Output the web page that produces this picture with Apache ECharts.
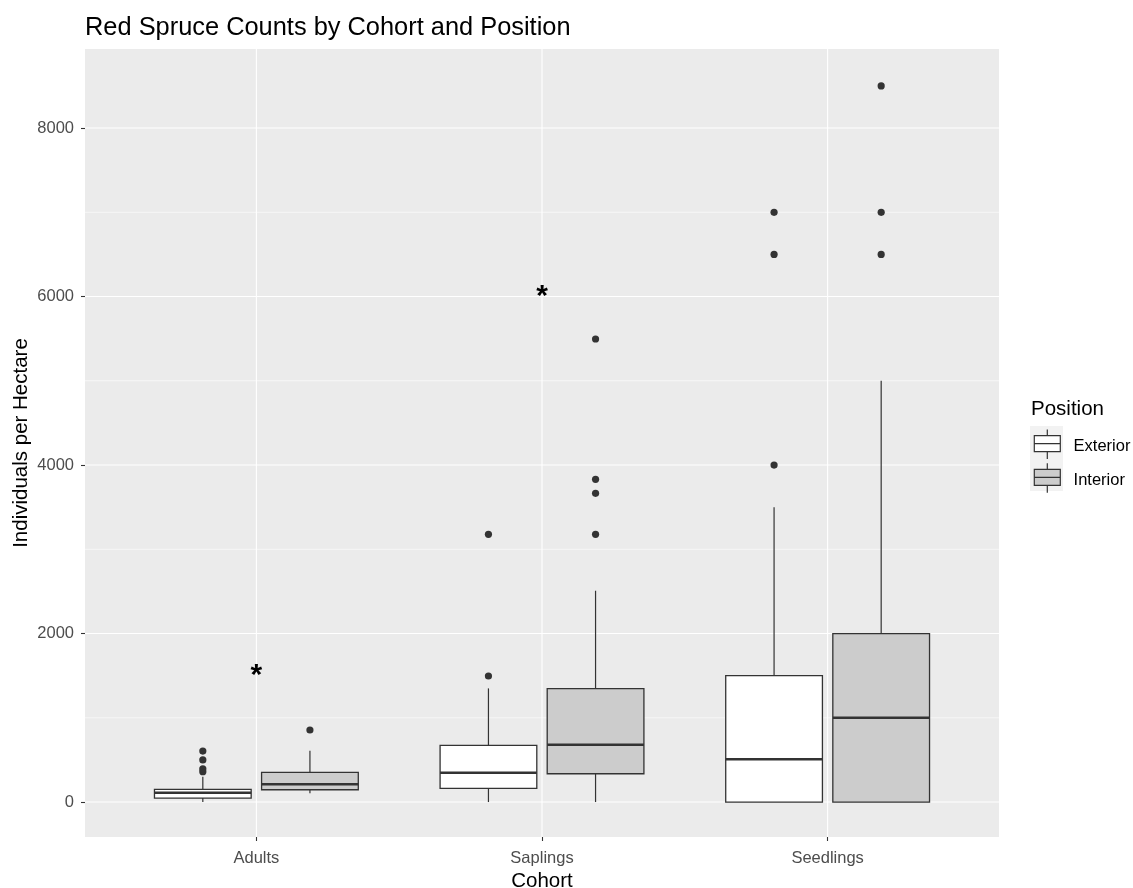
<!DOCTYPE html>
<html>
<head>
<meta charset="utf-8">
<title>Red Spruce Counts by Cohort and Position</title>
<script src="https://cdn.jsdelivr.net/npm/echarts@6/dist/echarts.min.js"></script>
<style>
  html, body { margin: 0; padding: 0; background: #ffffff; }
  #chart { width: 1133px; height: 888px; }
</style>
</head>
<body>
<div id="chart"></div>
<script>
// Cohorts on the x axis
const cohorts = ['Adults', 'Saplings', 'Seedlings'];
const positions = ['Exterior', 'Interior'];

// Five-number summaries per cohort: [lower whisker, Q1, median, Q3, upper whisker]
const exteriorStats = [
  [0, 47, 110, 151, 300],
  [0, 162, 348, 673, 1349],
  [0, 0, 507, 1500, 3500]
];
const interiorStats = [
  [103, 146, 210, 352, 609],
  [0, 336, 680, 1345, 2508],
  [0, 0, 1000, 2000, 5000]
];

// Outlying observations per cohort
const exteriorOutliers = [
  [360, 395, 500, 605],
  [1496, 3177],
  [4000, 6500, 7000]
];
const interiorOutliers = [
  [855],
  [3177, 3664, 3830, 5496],
  [6500, 7000, 8500]
];

// Significance markers: [cohort number, y value]
const markers = [[1, 1500], [2, 6000]];
const markerText = '*';

// Axis breaks
const yMajorBreaks = [0, 2000, 4000, 6000, 8000];
const yMinorBreaks = [1000, 3000, 5000, 7000];
const xBreaks = [1, 2, 3];

const FONT = "'Liberation Sans', Arial, sans-serif";
const OUTLINE = '#333333';
const DODGE = 0.1875;     // half of the dodge step, in category units
const BOX_W = 0.3386;     // box width, in category units

const chart = echarts.init(document.getElementById('chart'), null, { renderer: 'canvas' });

function boxRenderer(outliers, offset) {
  return function (params, api) {
    const i = params.dataIndex;
    const cx = api.value(0) + offset;
    const lo = api.value(1), q1 = api.value(2), md = api.value(3), q3 = api.value(4), hi = api.value(5);
    const half = api.size([BOX_W, 0])[0] / 2;
    const pLo = api.coord([cx, lo]);
    const pQ1 = api.coord([cx, q1]);
    const pMd = api.coord([cx, md]);
    const pQ3 = api.coord([cx, q3]);
    const pHi = api.coord([cx, hi]);
    const style = api.style();
    const children = [
      { type: 'line', shape: { x1: pQ3[0], y1: pQ3[1], x2: pHi[0], y2: pHi[1] },
        style: { stroke: OUTLINE, lineWidth: 1.2 } },
      { type: 'line', shape: { x1: pQ1[0], y1: pQ1[1], x2: pLo[0], y2: pLo[1] },
        style: { stroke: OUTLINE, lineWidth: 1.2 } },
      { type: 'rect',
        shape: { x: pQ1[0] - half, y: pQ3[1], width: half * 2, height: pQ1[1] - pQ3[1] },
        style: { fill: style.fill, stroke: OUTLINE, lineWidth: 1.3 } },
      { type: 'line', shape: { x1: pMd[0] - half, y1: pMd[1], x2: pMd[0] + half, y2: pMd[1] },
        style: { stroke: OUTLINE, lineWidth: 2.5 } }
    ];
    (outliers[i] || []).forEach(function (v) {
      const p = api.coord([cx, v]);
      children.push({ type: 'circle', shape: { cx: p[0], cy: p[1], r: 3.6 },
        style: { fill: OUTLINE } });
    });
    return { type: 'group', children: children };
  };
}

function toBoxData(stats) {
  return stats.map(function (s, i) { return [i + 1].concat(s); });
}

// Panel grid lines drawn across the full panel
function gridRenderer(params, api) {
  const cs = params.coordSys;
  const kind = api.value(0);
  const v = api.value(1);
  if (kind === 0) {
    const x = api.coord([v, 0])[0];
    return { type: 'line', shape: { x1: x, y1: cs.y, x2: x, y2: cs.y + cs.height },
      style: { stroke: '#ffffff', lineWidth: 1.1 } };
  }
  const y = api.coord([1, v])[1];
  return { type: 'line', shape: { x1: cs.x, y1: y, x2: cs.x + cs.width, y2: y },
    style: { stroke: '#ffffff', lineWidth: kind === 1 ? 1.1 : 0.6 } };
}

const gridData = []
  .concat(xBreaks.map(function (b) { return [0, b]; }))
  .concat(yMajorBreaks.map(function (b) { return [1, b]; }))
  .concat(yMinorBreaks.map(function (b) { return [2, b]; }));

// Key glyph for the legend: whiskers, box and median
const keyIcon = 'path://M0,0L0,0 M38,32.5L38,32.5 M16.7,3L16.7,9 M3.7,9L29.7,9L29.7,25L3.7,25Z M3.7,17L29.7,17 M16.7,25L16.7,32.5';

const option = {
  animation: false,
  backgroundColor: '#ffffff',
  title: [
    { text: 'Red Spruce Counts by Cohort and Position', left: 85, top: 15, padding: 0,
      textStyle: { fontFamily: FONT, fontSize: 25.4, fontWeight: 'normal', color: '#000000' } },
    { text: 'Position', left: 1031, top: 399, padding: 0,
      textStyle: { fontFamily: FONT, fontSize: 20.5, fontWeight: 'normal', color: '#000000' } }
  ],
  graphic: [
    { type: 'rect', left: 1030, top: 426, shape: { width: 33, height: 65 },
      style: { fill: '#F2F2F2' }, z: 0 }
  ],
  legend: {
    orient: 'vertical',
    left: 1030,
    top: 426,
    padding: 0,
    itemGap: 0,
    itemWidth: 38,
    itemHeight: 32.5,
    selectedMode: false,
    formatter: '{k|{name}}',
    textStyle: {
      fontFamily: FONT, fontSize: 16.5, color: '#000000',
      rich: { k: { fontFamily: FONT, fontSize: 16.5, color: '#000000', padding: [7, 0, 0, 0] } }
    },
    data: [
      { name: 'Exterior', icon: keyIcon, itemStyle: { color: '#FFFFFF', borderColor: OUTLINE, borderWidth: 1.2 } },
      { name: 'Interior', icon: keyIcon, itemStyle: { color: '#CCCCCC', borderColor: OUTLINE, borderWidth: 1.2 } }
    ]
  },
  grid: {
    left: 85, right: 134, top: 49, bottom: 51,
    containLabel: false,
    outerBoundsMode: 'none',
    show: true, backgroundColor: '#EBEBEB', borderWidth: 0
  },
  xAxis: {
    type: 'value',
    min: 0.4, max: 3.6,
    name: 'Cohort',
    nameLocation: 'middle',
    nameGap: 34,
    nameMoveOverlap: false,
    nameTextStyle: { fontFamily: FONT, fontSize: 20.5, color: '#000000' },
    axisLine: { show: false, onZero: false },
    axisTick: { show: true, length: 4, customValues: xBreaks, lineStyle: { color: '#333333', width: 1.1 } },
    axisLabel: {
      customValues: xBreaks,
      margin: 13,
      fontFamily: FONT, fontSize: 16.5, color: '#4D4D4D',
      formatter: function (v) { return cohorts[Math.round(v) - 1] || ''; }
    },
    splitLine: { show: false }
  },
  yAxis: {
    type: 'value',
    min: -415, max: 8938,
    name: 'Individuals per Hectare',
    nameLocation: 'middle',
    nameGap: 53,
    nameMoveOverlap: false,
    nameTextStyle: { fontFamily: FONT, fontSize: 20.5, color: '#000000' },
    axisLine: { show: false, onZero: false },
    axisTick: { show: true, length: 4, customValues: yMajorBreaks, lineStyle: { color: '#333333', width: 1.1 } },
    axisLabel: {
      customValues: yMajorBreaks,
      margin: 11,
      fontFamily: FONT, fontSize: 16.5, color: '#4D4D4D',
      formatter: function (v) { return String(v); }
    },
    splitLine: { show: false }
  },
  series: [
    {
      name: 'panelGrid', type: 'custom', z: 1, silent: true,
      renderItem: gridRenderer, data: gridData,
      encode: { x: 1 }, clip: true
    },
    {
      name: positions[0], type: 'custom', z: 3,
      itemStyle: { color: '#FFFFFF', borderColor: OUTLINE },
      renderItem: boxRenderer(exteriorOutliers, -DODGE),
      encode: { x: 0, y: [1, 2, 3, 4, 5] },
      data: toBoxData(exteriorStats)
    },
    {
      name: positions[1], type: 'custom', z: 3,
      itemStyle: { color: '#CCCCCC', borderColor: OUTLINE },
      renderItem: boxRenderer(interiorOutliers, DODGE),
      encode: { x: 0, y: [1, 2, 3, 4, 5] },
      data: toBoxData(interiorStats)
    },
    {
      name: 'markers', type: 'custom', z: 4, silent: true,
      renderItem: function (params, api) {
        const p = api.coord([api.value(0), api.value(1)]);
        return { type: 'text', x: p[0], y: p[1],
          style: { text: markerText, fontFamily: FONT, fontSize: 30, fontWeight: 'bold',
            fill: '#000000', align: 'center', verticalAlign: 'middle' } };
      },
      encode: { x: 0, y: 1 },
      data: markers
    }
  ]
};

chart.setOption(option);
</script>
</body>
</html>
